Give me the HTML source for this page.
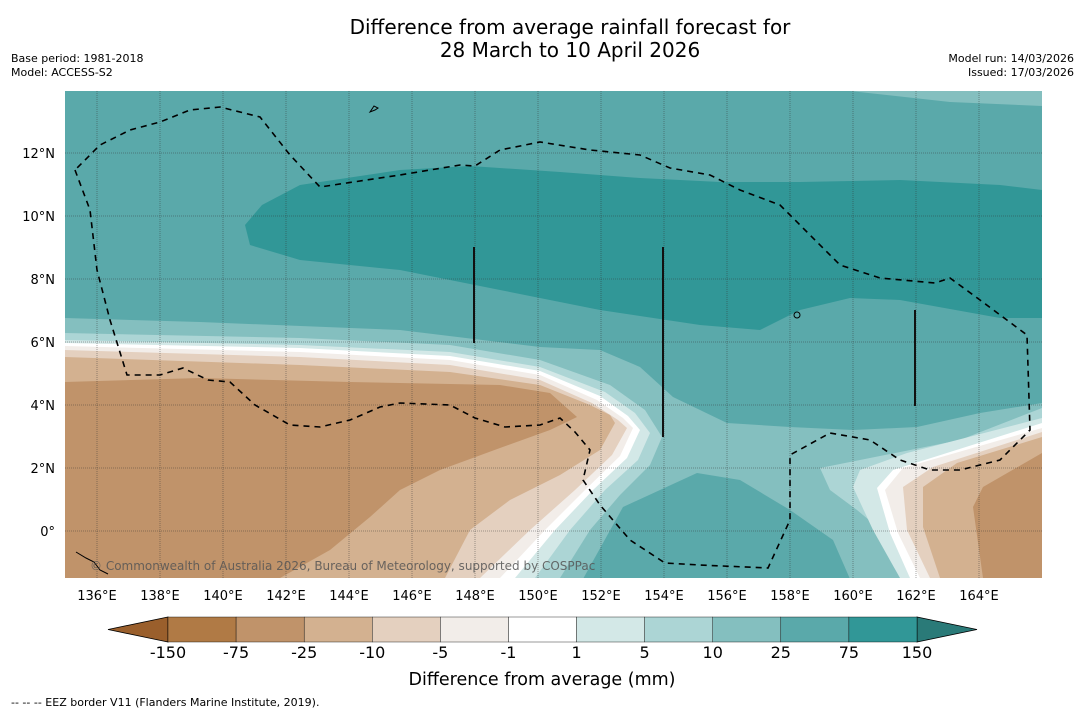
<!DOCTYPE html>
<html><head><meta charset="utf-8">
<style>
body{margin:0;background:#fff;width:1085px;height:713px;overflow:hidden;font-family:"DejaVu Sans","Liberation Sans",sans-serif}
svg{position:absolute;left:0;top:0}
</style></head><body>
<svg id="s" width="1085" height="713" viewBox="0 0 1085 713" font-family="DejaVu Sans, Liberation Sans, sans-serif">
<text x="570" y="34" text-anchor="middle" font-size="20" fill="#000">Difference from average rainfall forecast for</text>
<text x="570" y="57" text-anchor="middle" font-size="20" fill="#000">28 March to 10 April 2026</text>
<text x="11" y="62" font-size="11">Base period: 1981-2018</text>
<text x="11" y="76" font-size="11">Model: ACCESS-S2</text>
<text x="1074" y="62" font-size="11" text-anchor="end">Model run: 14/03/2026</text>
<text x="1074" y="76" font-size="11" text-anchor="end">Issued: 17/03/2026</text>
<defs><clipPath id="mc"><rect x="65" y="91" width="977" height="487"/></clipPath></defs>
<g clip-path="url(#mc)">
<rect x="65" y="91" width="977" height="487" fill="#5aa9aa"/>
<polygon fill="#84bfbf" points="850,91 1042,91 1042,106 950,102"/>
<polygon fill="#319797" points="245,225 262,205 300,185 400,170 470,166 560,172 640,178 720,182 800,182 900,180 1000,185 1042,190 1042,318 1000,318 900,300 850,298 800,310 760,330 700,325 600,310 500,290 400,270 300,260 250,245"/>
<polygon fill="#84bfbf" points="65,318 200,322 400,330 540,347 600,350 640,367 673,397 727,423 790,427 853,430 917,427 980,413 1042,403 1042,578 65,578"/>
<polygon fill="#5aa9aa" points="583,579 623,507 697,473 740,480 790,510 833,540 850,579"/>
<polygon fill="#acd5d5" points="65,333 300,338 450,345 540,360 610,385 645,410 662,437 650,465 620,495 590,530 560,578 65,578"/>
<polygon fill="#d3e8e7" points="65,340 300,345 450,352 540,367 605,392 635,413 650,433 638,460 605,490 570,530 535,578 65,578"/>
<polygon fill="#ffffff" points="65,343 300,348 450,356 540,371 600,396 628,416 640,430 627,458 593,490 555,530 515,578 65,578"/>
<polygon fill="#f2ede9" points="65,346 300,352 450,360 540,375 597,400 623,418 633,428 620,456 585,490 545,530 500,578 65,578"/>
<polygon fill="#e4d0bf" points="65,350 300,357 450,365 540,380 592,403 618,420 627,428 612,455 575,490 530,530 480,578 65,578"/>
<polygon fill="#d3b190" points="65,357 300,365 450,372 540,385 590,405 610,415 615,423 600,450 560,475 510,500 470,530 445,578 65,578"/>
<polygon fill="#c0936a" points="65,382 200,378 350,382 500,385 550,393 577,417 550,430 500,448 440,470 400,490 370,517 330,550 280,578 65,578"/>
<polygon fill="#acd5d5" points="820,468 870,458 960,440 1042,408 1042,578 917,578 893,540 857,510 830,490"/>
<polygon fill="#d3e8e7" points="853,487 860,470 907,453 1042,418 1042,578 900,578 873,530"/>
<polygon fill="#ffffff" points="877,488 893,470 1042,423 1042,578 910,578 890,533"/>
<polygon fill="#f2ede9" points="885,490 903,468 1042,428 1042,578 920,578 898,533"/>
<polygon fill="#e4d0bf" points="903,487 933,467 1042,432 1042,578 930,578 907,530"/>
<polygon fill="#d3b190" points="923,487 957,463 1042,437 1042,578 940,578 923,527"/>
<polygon fill="#c0936a" points="983,487 1042,453 1042,578 983,578 973,507"/>
<g id="grid"></g>
<polyline fill="none" stroke="#000" stroke-width="1.6" stroke-dasharray="6,5" points="75,170 90,210 97,270 110,320 127,375 160,375 183,368 208,380 230,382 255,405 290,425 320,427 350,420 380,407 400,403 450,405 475,418 505,427 540,425 560,418 575,432 590,450 583,480 600,505 630,540 665,563 700,565 768,568 790,520 790,455 830,433 870,440 900,460 930,470 960,470 1000,460 1030,430 1027,335 980,300 950,278 935,283 880,278 840,265 780,205 740,190 710,175 670,168 640,155 590,150 540,142 500,150 475,166 460,165 400,175 320,187 290,155 260,117 220,107 190,110 160,122 130,130 100,145 75,170"/>
<line x1="474" y1="247" x2="474" y2="343" stroke="#111" stroke-width="2"/>
<line x1="663" y1="247" x2="663" y2="437" stroke="#111" stroke-width="2"/>
<line x1="915" y1="310" x2="915" y2="406" stroke="#111" stroke-width="2"/>
<circle cx="797" cy="315" r="3" fill="none" stroke="#000"/>
<path d="M370,112 l4,-6 l4,2 l-3,2z" fill="none" stroke="#000"/>
<path d="M76,552 l10,6 l8,4 l6,8 l8,4" fill="none" stroke="#000"/>
<text x="90" y="570" font-size="12" fill="#555" fill-opacity="0.85">© Commonwealth of Australia 2026, Bureau of Meteorology, supported by COSPPac</text>
</g>
<g id="axes"></g>
<g id="cbar"></g>
<text x="542" y="685" text-anchor="middle" font-size="17.5">Difference from average (mm)</text>
<text x="11" y="706" font-size="11">--  --  -- EEZ border V11 (Flanders Marine Institute, 2019).</text>
</svg>
<script>
const lonTicks=[136,138,140,142,144,146,148,150,152,154,156,158,160,162,164];
const latTicks=[0,2,4,6,8,10,12];
const levels=["-150","-75","-25","-10","-5","-1","1","5","10","25","75","150"];
const levelColors=["#b07a45","#c0936a","#d3b190","#e4d0bf","#f2ede9","#ffffff","#d3e8e7","#acd5d5","#84bfbf","#5aa9aa","#319797"];
const extendColors=["#9a5f2c","#2a7a78"];
const NS="http://www.w3.org/2000/svg";
function xLon(l){return 97+(l-136)*31.5;}
function yLat(l){return 531-l*31.5;}
function mk(t,a,p){const e=document.createElementNS(NS,t);for(const k in a)e.setAttribute(k,a[k]);p.appendChild(e);return e;}
const g=document.getElementById('grid'),ax=document.getElementById('axes'),cb=document.getElementById('cbar');
lonTicks.forEach(l=>{const x=xLon(l);
 const ln=mk('line',{x1:x,y1:91,x2:x,y2:578,stroke:'#333','stroke-opacity':0.55,'stroke-width':0.8,'stroke-dasharray':'1,1'},g);
 
 
 const t=mk('text',{x:x,y:600,'text-anchor':'middle','font-size':13},ax);t.textContent=l+'°E';
 
 });
latTicks.forEach(l=>{const y=yLat(l);
 const ln=mk('line',{x1:65,y1:y,x2:1042,y2:y,stroke:'#333','stroke-opacity':0.55,'stroke-width':0.8,'stroke-dasharray':'1,1'},g);
 
 
 const t=mk('text',{x:55,y:y+5,'text-anchor':'end','font-size':13},ax);t.textContent=l===0?'0°':l+'°N';
 
 });
const x0=168,x1=917,y0=617,h=25,w=(x1-x0)/levelColors.length;
const lt=mk('polygon',{points:`${x0},${y0} ${x0},${y0+h} 108,${y0+h/2}`,fill:extendColors[0],stroke:'#000','stroke-width':0.8},cb);


const rt=mk('polygon',{points:`${x1},${y0} ${x1},${y0+h} 977,${y0+h/2}`,fill:extendColors[1],stroke:'#000','stroke-width':0.8},cb);


levelColors.forEach((c,i)=>{const r=mk('rect',{x:x0+i*w,y:y0,width:w,height:h,fill:c,stroke:'#000','stroke-width':0.4},cb);
 
 });
levels.forEach((v,i)=>{const t=mk('text',{x:x0+i*w,y:658,'text-anchor':'middle','font-size':16},cb);t.textContent=v;
 
 });
</script>
</body></html>
